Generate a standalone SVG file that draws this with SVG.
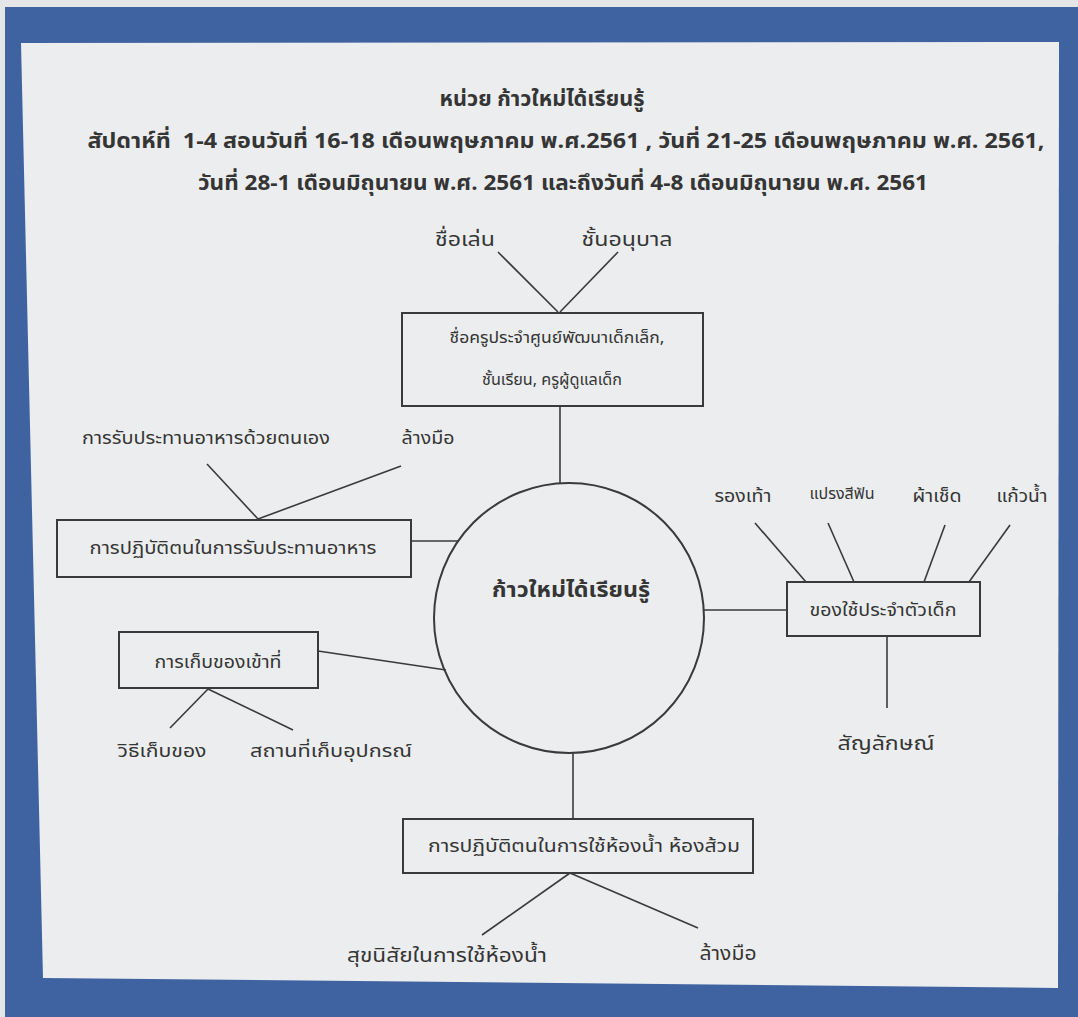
<svg xmlns="http://www.w3.org/2000/svg" width="1078" height="1017" viewBox="0 0 1078 1017">
<style>
text{font-family:"Noto Sans Thai","Tahoma","Noto Sans","DejaVu Sans",sans-serif;fill:#353535;text-anchor:middle;}
.t{font-size:21px;font-weight:bold;}
.c{font-size:18px;}
.s{font-size:16px;}
.m{font-size:15px;}
.l{font-size:20px;}
.box{fill:none;stroke:#3a3a3a;stroke-width:2;}
.ln{stroke:#3a3a3a;stroke-width:1.6;fill:none;}
</style>
<rect x="0" y="0" width="1078" height="1017" fill="#3f63a0"/>
<rect x="0" y="0" width="1078" height="7" fill="#e4e6e8"/>
<rect x="0" y="0" width="5" height="1017" fill="#e4e6e8"/>
<polygon points="21,43 1059,42 1058,988 43,978" fill="#ebedee"/>

<g id="title">
<text class="t" x="542" y="106" textLength="205" lengthAdjust="spacingAndGlyphs">หน่วย ก้าวใหม่ได้เรียนรู้</text>
<text class="t" x="566" y="148" textLength="957" lengthAdjust="spacingAndGlyphs">สัปดาห์ที่&#160; 1-4 สอนวันที่ 16-18 เดือนพฤษภาคม พ.ศ.2561 , วันที่ 21-25 เดือนพฤษภาคม พ.ศ. 2561,</text>
<text class="t" x="563" y="190" textLength="730" lengthAdjust="spacingAndGlyphs">วันที่ 28-1 เดือนมิถุนายน พ.ศ. 2561 และถึงวันที่ 4-8 เดือนมิถุนายน พ.ศ. 2561</text>
</g>

<g id="connectors">
<line class="ln" x1="498" y1="252" x2="558" y2="312"/>
<line class="ln" x1="618" y1="252" x2="560" y2="312"/>
<line class="ln" x1="560" y1="407" x2="560" y2="483"/>
<line class="ln" x1="207" y1="464" x2="258" y2="519"/>
<line class="ln" x1="401" y1="466" x2="258" y2="519"/>
<line class="ln" x1="411" y1="541" x2="458" y2="541"/>
<line class="ln" x1="318" y1="651" x2="446" y2="670"/>
<line class="ln" x1="208" y1="689" x2="170" y2="728"/>
<line class="ln" x1="208" y1="689" x2="293" y2="730"/>
<line class="ln" x1="704" y1="610" x2="787" y2="610"/>
<line class="ln" x1="755" y1="523" x2="806" y2="582"/>
<line class="ln" x1="828" y1="523" x2="854" y2="582"/>
<line class="ln" x1="945" y1="525" x2="924" y2="582"/>
<line class="ln" x1="1010" y1="525" x2="969" y2="582"/>
<line class="ln" x1="887" y1="636" x2="887" y2="708"/>
<line class="ln" x1="573" y1="753" x2="573" y2="819"/>
<line class="ln" x1="570" y1="873" x2="482" y2="935"/>
<line class="ln" x1="570" y1="873" x2="698" y2="928"/>
</g>

<g id="center">
<circle cx="569" cy="618" r="135" class="box" stroke-width="1.8"/>
<text x="571" y="597" style="font-size:21px;font-weight:bold" textLength="158" lengthAdjust="spacingAndGlyphs">ก้าวใหม่ได้เรียนรู้</text>
</g>

<g id="node-teacher">
<rect x="402" y="313" width="301" height="93" class="box"/>
<text class="s" x="557" y="343" textLength="215" lengthAdjust="spacingAndGlyphs">ชื่อครูประจำศูนย์พัฒนาเด็กเล็ก,</text>
<text class="s" x="552" y="385" textLength="140" lengthAdjust="spacingAndGlyphs">ชั้นเรียน, ครูผู้ดูแลเด็ก</text>
</g>
<g id="leaf-nickname"><text class="l" x="465" y="246" textLength="60" lengthAdjust="spacingAndGlyphs">ชื่อเล่น</text></g>
<g id="leaf-kindergarten"><text class="l" x="627" y="246" textLength="91" lengthAdjust="spacingAndGlyphs">ชั้นอนุบาล</text></g>

<g id="node-eating">
<rect x="57" y="520" width="354" height="57" class="box"/>
<text class="c" x="233" y="554" textLength="287" lengthAdjust="spacingAndGlyphs">การปฏิบัติตนในการรับประทานอาหาร</text>
</g>
<g id="leaf-selfeat"><text class="c" x="206" y="444" textLength="248" lengthAdjust="spacingAndGlyphs">การรับประทานอาหารด้วยตนเอง</text></g>
<g id="leaf-wash1"><text class="c" x="428" y="444" textLength="53" lengthAdjust="spacingAndGlyphs">ล้างมือ</text></g>

<g id="node-store">
<rect x="119" y="632" width="199" height="56" class="box"/>
<text class="c" x="218" y="668" textLength="127" lengthAdjust="spacingAndGlyphs">การเก็บของเข้าที่</text>
</g>
<g id="leaf-method"><text class="c" x="162" y="757" textLength="89" lengthAdjust="spacingAndGlyphs">วิธีเก็บของ</text></g>
<g id="leaf-place"><text class="c" x="331" y="757" textLength="162" lengthAdjust="spacingAndGlyphs">สถานที่เก็บอุปกรณ์</text></g>

<g id="node-items">
<rect x="787" y="582" width="193" height="54" class="box"/>
<text class="c" x="883" y="616" textLength="147" lengthAdjust="spacingAndGlyphs">ของใช้ประจำตัวเด็ก</text>
</g>
<g id="leaf-shoes"><text class="c" x="743" y="502" textLength="57" lengthAdjust="spacingAndGlyphs">รองเท้า</text></g>
<g id="leaf-brush"><text class="m" x="842" y="499" textLength="65" lengthAdjust="spacingAndGlyphs">แปรงสีฟัน</text></g>
<g id="leaf-towel"><text class="c" x="937" y="502" textLength="49" lengthAdjust="spacingAndGlyphs">ผ้าเช็ด</text></g>
<g id="leaf-glass"><text class="c" x="1022" y="502" textLength="51" lengthAdjust="spacingAndGlyphs">แก้วน้ำ</text></g>
<g id="leaf-symbol"><text class="l" x="886" y="750" textLength="97" lengthAdjust="spacingAndGlyphs">สัญลักษณ์</text></g>

<g id="node-toilet">
<rect x="403" y="819" width="350" height="54" class="box"/>
<text class="c" x="584" y="852" textLength="312" lengthAdjust="spacingAndGlyphs">การปฏิบัติตนในการใช้ห้องน้ำ ห้องส้วม</text>
</g>
<g id="leaf-hygiene"><text class="l" x="447" y="962" textLength="200" lengthAdjust="spacingAndGlyphs">สุขนิสัยในการใช้ห้องน้ำ</text></g>
<g id="leaf-wash2"><text class="l" x="728" y="960" textLength="57" lengthAdjust="spacingAndGlyphs">ล้างมือ</text></g>
</svg>
